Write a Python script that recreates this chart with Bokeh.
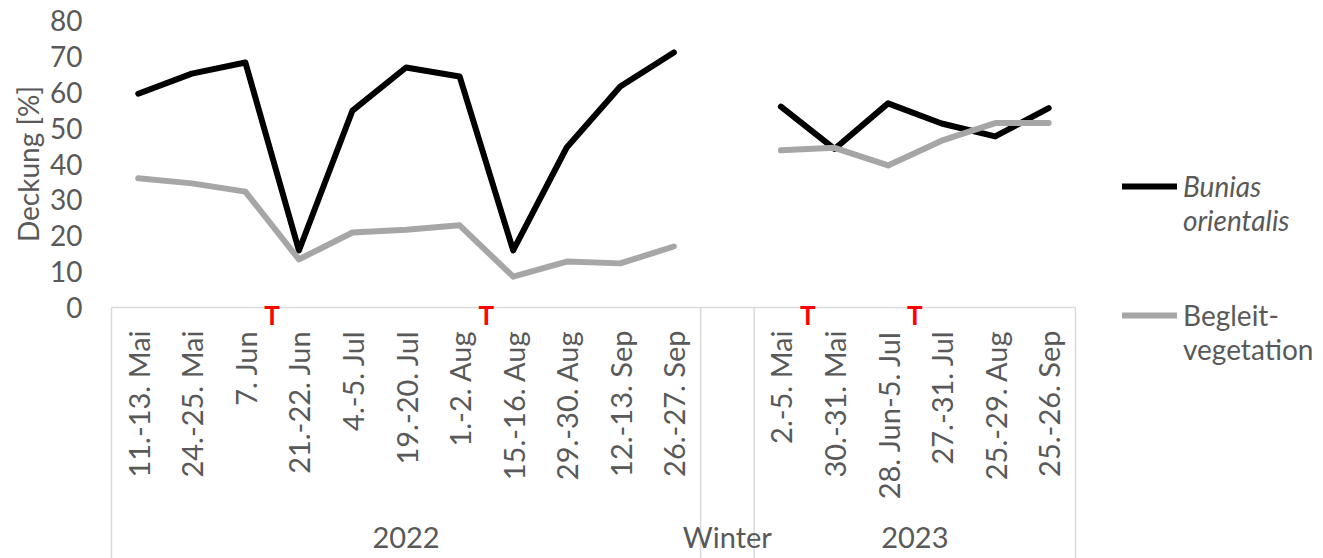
import math
from bokeh.plotting import figure
from bokeh.models import (Range1d, LinearAxis, FixedTicker, Legend, LegendItem, Label)
from bokeh.embed import file_html
from bokeh.resources import INLINE

# ---------------- data ----------------
dates_2022 = ["11.-13. Mai", "24.-25. Mai", "7. Jun", "21.-22. Jun", "4.-5. Jul", "19.-20. Jul",
              "1.-2. Aug", "15.-16. Aug", "29.-30. Aug", "12.-13. Sep", "26.-27. Sep"]
dates_winter = [""]
dates_2023 = ["2.-5. Mai", "30.-31. Mai", "28. Jun-5. Jul", "27.-31. Jul", "25.-29. Aug", "25.-26. Sep"]
group_names = ["2022", "Winter", "2023"]

bunias_2022 = [59.6, 65.2, 68.3, 15.9, 54.9, 66.9, 64.4, 15.9, 44.6, 61.6, 71.1]
bunias_2023 = [56.0, 44.2, 56.9, 51.3, 47.7, 55.6]
begleit_2022 = [36.0, 34.6, 32.3, 13.4, 20.9, 21.7, 22.9, 8.6, 12.8, 12.3, 17.0]
begleit_2023 = [43.8, 44.5, 39.6, 46.5, 51.4, 51.4]

y_ticks = [0, 10, 20, 30, 40, 50, 60, 70, 80]
y_title = "Deckung [%]"
# red "T" markers are drawn right after these dates
treatment_after = ["7. Jun", "1.-2. Aug", "2.-5. Mai", "28. Jun-5. Jul"]

series_names = ["Bunias\norientalis", "Begleit-\nvegetation"]

# ---------------- derived ----------------
categories = dates_2022 + dates_winter + dates_2023
nan = float("nan")
bunias = bunias_2022 + [nan] + bunias_2023
begleit = begleit_2022 + [nan] + begleit_2023
ncat = len(categories)
xpos = [i + 0.5 for i in range(ncat)]

group_sizes = [len(dates_2022), len(dates_winter), len(dates_2023)]
bounds = [0]
for s in group_sizes:
    bounds.append(bounds[-1] + s)
group_centers = [(bounds[i] + bounds[i + 1]) / 2 for i in range(len(group_sizes))]

# ---------------- layout (pixels) ----------------
W, H = 1323, 558
LEFT, TOP = 111, 20           # start of category axis / row of the top value
AXIS_X_RIGHT = 1075           # end of the category axis
AXIS_Y = 307                  # pixel row of value 0
YMAX = 80
px_per_cat = (AXIS_X_RIGHT - LEFT) / ncat
px_per_unit = (AXIS_Y - TOP) / YMAX
x_start = -LEFT / px_per_cat
x_end = (W - LEFT) / px_per_cat
y_start = -(H - AXIS_Y) / px_per_unit
y_end = YMAX + TOP / px_per_unit

TEXT = "#595959"
FONT = "Lato"
FS = "28px"
FSX = "29px"
GRID = "#d9d9d9"

p = figure(width=W, height=H,
           x_range=Range1d(x_start, x_end), y_range=Range1d(y_start, y_end),
           output_backend="svg", toolbar_location=None,
           min_border_left=0, min_border_right=0, min_border_top=0, min_border_bottom=0)
p.outline_line_color = None
p.xgrid.visible = False
p.ygrid.visible = False

# y axis
ya = p.yaxis[0]
ya.fixed_location = 0
ya.ticker = FixedTicker(ticks=y_ticks)
ya.bounds = (0, YMAX)
ya.axis_line_color = None
ya.major_tick_line_color = None
ya.minor_tick_line_color = None
ya.major_tick_out = 0
ya.minor_tick_out = 0
ya.major_tick_in = 0
ya.minor_tick_in = 0
ya.major_label_standoff = 29
ya.major_label_text_font = FONT
ya.major_label_text_font_size = FS
ya.major_label_text_color = TEXT

p.add_layout(Label(x=(27 - LEFT) / px_per_cat, y=YMAX / 2, text=y_title, angle=math.pi / 2,
                   text_align="center", text_baseline="middle", text_font=FONT,
                   text_font_size=FS, text_color=TEXT))

# x axis (dates)
xa = p.xaxis[0]
xa.fixed_location = 0
xa.bounds = (0, ncat)
xa.ticker = FixedTicker(ticks=xpos)
xa.major_label_overrides = {x: c for x, c in zip(xpos, categories)}
xa.major_label_orientation = math.pi / 2
xa.axis_line_color = GRID
xa.axis_line_width = 1.5
xa.major_tick_line_color = None
xa.minor_tick_line_color = None
xa.major_tick_out = 0
xa.major_tick_in = 0
xa.minor_tick_out = 0
xa.minor_tick_in = 0
xa.major_label_standoff = 23
xa.major_label_text_font = FONT
xa.major_label_text_font_size = FSX
xa.major_label_text_color = TEXT

# x axis (groups)
ga = LinearAxis(ticker=FixedTicker(ticks=group_centers),
                major_label_overrides={c: g for c, g in zip(group_centers, group_names)})
ga.fixed_location = 0
ga.bounds = (0, ncat)
ga.axis_line_color = None
ga.major_tick_line_color = None
ga.minor_tick_line_color = None
ga.major_tick_out = 0
ga.minor_tick_out = 0
ga.major_tick_in = 0
ga.minor_tick_in = 0
ga.major_label_standoff = 211
ga.major_label_text_font = FONT
ga.major_label_text_font_size = FSX
ga.major_label_text_color = TEXT
p.add_layout(ga, "below")

# box / separators of the category axis
p.segment(x0=bounds, y0=[0] * len(bounds), x1=bounds, y1=[y_start] * len(bounds),
          line_color=GRID, line_width=1.5)

# lines
r1 = p.line(xpos, bunias, line_color="black", line_width=6,
            line_cap="round", line_join="round")
r2 = p.line(xpos, begleit, line_color="#a6a6a6", line_width=6,
            line_cap="round", line_join="round")

# treatment markers
for d in treatment_after:
    idx = categories.index(d)
    p.add_layout(Label(x=idx + 1, y=-7 / px_per_unit, text="T", text_color="#ff0000",
                       text_font=FONT, text_font_style="bold", text_font_size="26px",
                       text_align="center", text_baseline="alphabetic"))

# legends (blank first line keeps the swatch level with the first text line)
def make_legend(name, renderer, style, loc):
    lg = Legend(items=[LegendItem(label="\n" + name, renderers=[renderer])], location=loc,
                label_text_font=FONT, label_text_font_size=FS, label_text_color=TEXT,
                label_text_font_style=style, label_text_line_height=1.26,
                glyph_width=55, glyph_height=34,
                label_standoff=6, padding=0, margin=0, border_line_color=None,
                background_fill_alpha=0)
    p.add_layout(lg)

make_legend(series_names[0], r1, "italic", (1122, H - 237))
make_legend(series_names[1], r2, "normal", (1122, H - 366))

open("out.html", "w").write(file_html(p, INLINE))
